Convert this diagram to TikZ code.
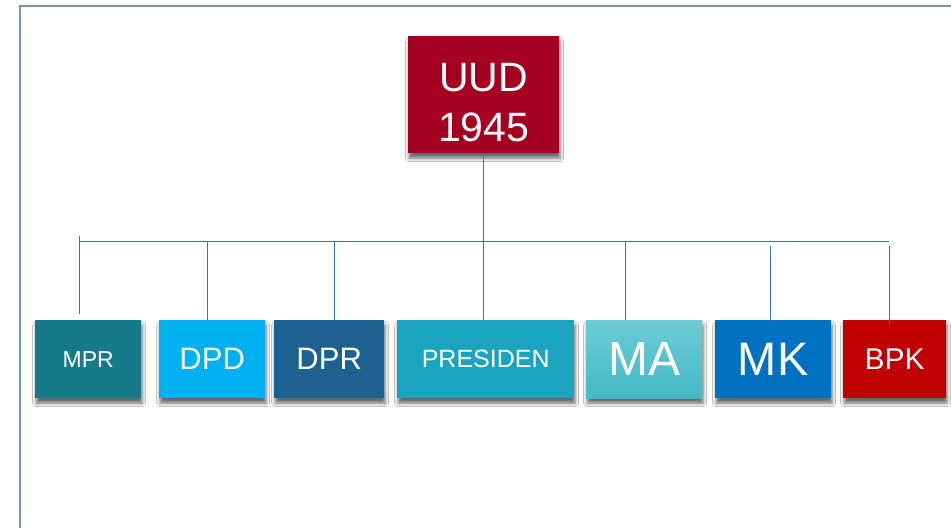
\documentclass[tikz,border=0pt]{standalone}
\usepackage{fontspec}
\setmainfont{Liberation Sans}
\usetikzlibrary{shadows.blur}
\definecolor{cUUD}{HTML}{A50021}
\definecolor{cMPR}{HTML}{157B89}
\definecolor{cDPD}{HTML}{00B0F0}
\definecolor{cDPR}{HTML}{1D6190}
\definecolor{cPRES}{HTML}{1BA4BF}
\definecolor{cMAt}{HTML}{6CCBD5}
\definecolor{cMAb}{HTML}{44BAC5}
\definecolor{cMK}{HTML}{0070C0}
\definecolor{cBPK}{HTML}{C00000}
\definecolor{cLine}{HTML}{3A74A3}
\definecolor{cFrame}{HTML}{7396AE}
\tikzset{
  orgbox/.style={rectangle, anchor=north west, inner sep=0pt, text=white, align=center,
    blur shadow={shadow xshift=1pt, shadow yshift=-5pt, shadow blur radius=3.5pt, shadow opacity=60}},
  conn/.style={draw=cLine, line width=0.9pt},
}
\newcommand{\fs}[1]{\fontsize{#1}{#1}\selectfont}
\begin{document}
\begin{tikzpicture}[x=1pt,y=-1pt]
\useasboundingbox (0,0) rectangle (951,528);
\fill[white] (0,0) rectangle (951,528);
\draw[cFrame, line width=1.3pt] (20,528) -- (20,6) -- (951,6);
% boxes
\node[orgbox, fill=cUUD, minimum width=151pt, minimum height=117pt, font=\fs{41}] (uud) at (408,36) {\rule{0pt}{44pt}UUD\\[9pt]1945};
\node[orgbox, fill=cMPR, minimum width=106pt, minimum height=78pt, font=\fs{23}] (mpr) at (35,320) {MPR};
\node[orgbox, fill=cDPD, minimum width=106pt, minimum height=78pt, font=\fs{31}] (dpd) at (159,320) {DPD};
\node[orgbox, fill=cDPR, minimum width=110pt, minimum height=78pt, font=\fs{31}] (dpr) at (274,320) {DPR};
\node[orgbox, fill=cPRES, minimum width=177pt, minimum height=78pt, font=\fs{25}] (pres) at (397,320) {PRESIDEN};
\node[orgbox, top color=cMAt, bottom color=cMAb, minimum width=116pt, minimum height=78pt, font=\fs{48}] (ma) at (586,320) {MA};
\node[orgbox, fill=cMK, minimum width=116pt, minimum height=78pt, font=\fs{47}] (mk) at (715,320) {MK};
\node[orgbox, fill=cBPK, minimum width=103pt, minimum height=78pt, font=\fs{30}] (bpk) at (843,320) {BPK};
% connectors
\coordinate (barL) at (79,241);
\coordinate (barR) at (889,241);
\draw[conn] (barL) -- (barR);
\draw[conn] ([xshift=-0.5pt]uud.south) -- ([xshift=-0.5pt]uud.south |- pres.north);
\draw[conn] ([xshift=-9pt,yshift=6pt]mpr.north) -- ([xshift=-9pt]mpr.north |- 0,236);
\draw[conn] ([xshift=-5pt]dpd.north) -- ([xshift=-5pt]dpd.north |- barL);
\draw[conn] ([xshift=5pt]dpr.north) -- ([xshift=5pt]dpr.north |- barL);
\draw[conn] ([xshift=-19pt]ma.north) -- ([xshift=-19pt]ma.north |- barL);
\draw[conn] ([xshift=-3pt,yshift=-2pt]mk.north) -- ([xshift=-3pt]mk.north |- 0,246);
\draw[conn] ([xshift=-5.5pt,yshift=-4pt]bpk.north) -- ([xshift=-5.5pt]bpk.north |- 0,246);
\end{tikzpicture}
\end{document}
